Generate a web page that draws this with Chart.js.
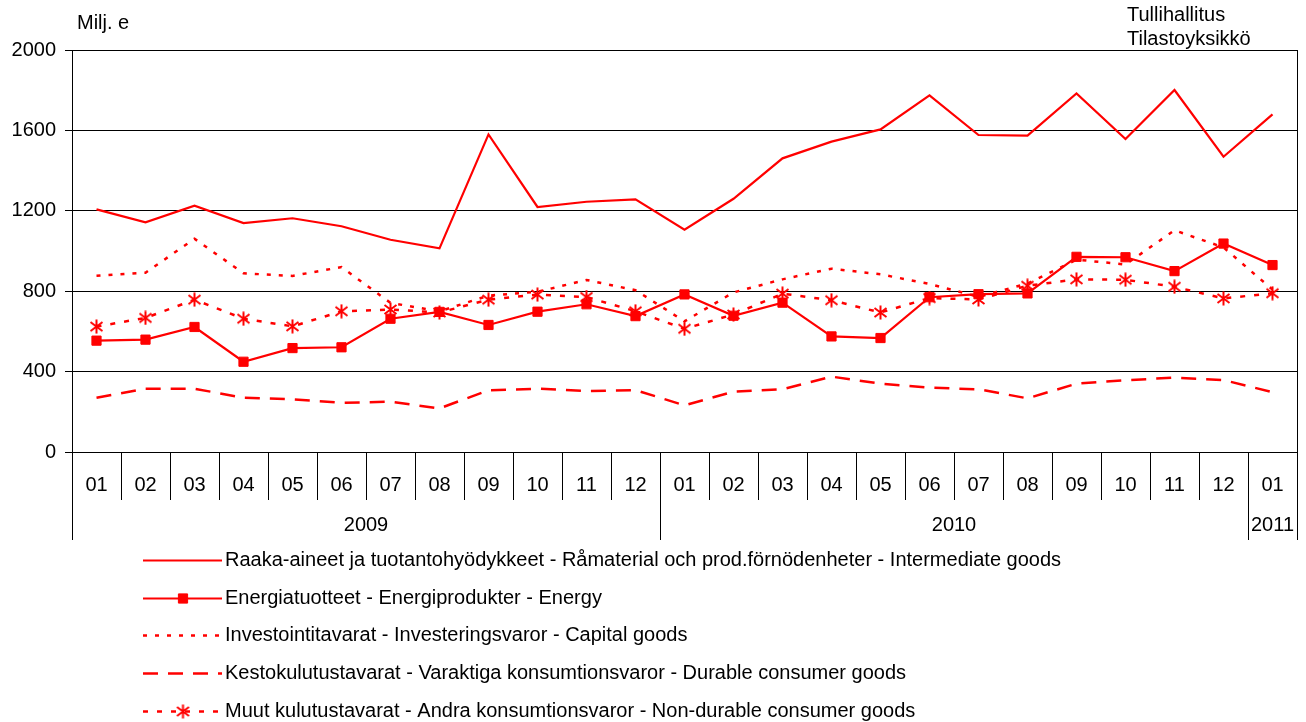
<!DOCTYPE html>
<html>
<head>
<meta charset="utf-8">
<script src="https://cdn.jsdelivr.net/npm/chart.js@4.4.1/dist/chart.umd.min.js"></script>
<style>
  html, body { margin: 0; padding: 0; background: #fff; }
</style>
</head>
<body>
<canvas id="chart-imports" width="1306" height="722"></canvas>
<script>
// data
var months = ["01","02","03","04","05","06","07","08","09","10","11","12",
              "01","02","03","04","05","06","07","08","09","10","11","12","01"];
var years = ["2009", "2010", "2011"];
var yearSpans = [12, 12, 1];
var yTicks = [0, 400, 800, 1200, 1600, 2000];

var intermediate = [1207,1143,1225,1139,1163,1123,1056,1013,1580,1219,1245,1257,
                    1106,1260,1461,1544,1605,1774,1577,1574,1784,1557,1801,1469,1680];
var energy = [554,559,622,449,517,521,663,697,632,698,735,676,
              784,678,743,575,567,770,785,789,971,969,900,1037,930];
var capital = [877,892,1061,889,876,920,742,700,778,797,856,805,
               650,794,859,912,884,836,772,838,957,933,1103,1018,808];
var durable = [270,315,315,270,262,245,250,217,307,315,303,308,
               232,300,312,375,340,320,312,267,340,357,370,358,298];
var nondurable = [624,667,758,663,625,700,709,694,758,783,771,700,
                  613,684,788,755,694,766,759,827,859,857,822,764,790];

var labels = [
  "Raaka-aineet ja tuotantohyödykkeet - Råmaterial och prod.förnödenheter - Intermediate goods",
  "Energiatuotteet - Energiprodukter - Energy",
  "Investointitavarat - Investeringsvaror - Capital goods",
  "Kestokulutustavarat - Varaktiga konsumtionsvaror - Durable consumer goods",
  "Muut kulutustavarat - Andra konsumtionsvaror - Non-durable consumer goods"
];

var RED = '#ff0000';
var FONT = 'Arial, "Liberation Sans", sans-serif';
var FS = 20;

// asterisk marker like the excel one
var star = document.createElement('canvas');
star.width = 15; star.height = 15;
(function () {
  var c = star.getContext('2d');
  c.strokeStyle = RED;
  c.lineWidth = 2;
  c.beginPath();
  c.moveTo(7.5, 0.5); c.lineTo(7.5, 14.5);
  c.moveTo(1.5, 3); c.lineTo(13.5, 12);
  c.moveTo(1.5, 12); c.lineTo(13.5, 3);
  c.stroke();
})();

// frame, year row and legend
var decor = {
  id: 'decor',
  afterDraw: function (chart) {
    var ctx = chart.ctx;
    var a = chart.chartArea;
    var x = chart.scales.x;
    var half = (x.getPixelForValue(1) - x.getPixelForValue(0)) / 2;
    ctx.save();
    ctx.strokeStyle = '#000';
    ctx.lineWidth = 1;
    ctx.beginPath();
    ctx.moveTo(Math.round(a.right) + 0.5, a.top);
    ctx.lineTo(Math.round(a.right) + 0.5, a.bottom + 88);
    ctx.stroke();

    // year groups
    ctx.fillStyle = '#000';
    ctx.font = FS + 'px ' + FONT;
    ctx.textAlign = 'center';
    ctx.textBaseline = 'middle';
    var start = 0;
    for (var i = 0; i < years.length; i++) {
      var x0 = x.getPixelForValue(start) - half;
      var x1 = x.getPixelForValue(start + yearSpans[i] - 1) + half;
      ctx.beginPath();
      ctx.moveTo(Math.round(x0) + 0.5, a.bottom);
      ctx.lineTo(Math.round(x0) + 0.5, a.bottom + 88);
      ctx.stroke();
      ctx.fillText(years[i], (x0 + x1) / 2, a.bottom + 73);
      start += yearSpans[i];
    }

    // legend
    var ds = chart.data.datasets;
    ctx.textAlign = 'left';
    for (var j = 0; j < ds.length; j++) {
      var y = Math.round(560 + j * 37.7) + 0.5;
      ctx.save();
      ctx.strokeStyle = ds[j].borderColor;
      ctx.lineWidth = ds[j].borderWidth;
      ctx.setLineDash(ds[j].borderDash || []);
      ctx.beginPath();
      ctx.moveTo(143, y);
      ctx.lineTo(222, y);
      ctx.stroke();
      ctx.restore();
      if (ds[j].pointRadius > 0) {
        ctx.save();
        ctx.fillStyle = RED;
        ctx.strokeStyle = RED;
        Chart.helpers.drawPoint(ctx, {
          pointStyle: ds[j].pointStyle, radius: ds[j].pointRadius,
          borderWidth: 1, rotation: 0
        }, 183, y);
        ctx.restore();
      }
      ctx.fillStyle = '#000';
      ctx.fillText(ds[j].label, 225, y);
    }

    // headers
    ctx.fillText('Milj. e', 77, 23);
    ctx.fillText('Tullihallitus', 1127, 15);
    ctx.fillText('Tilastoyksikkö', 1127, 39);
    ctx.restore();
  }
};

var ctx = document.getElementById('chart-imports').getContext('2d');
var chart = new Chart(ctx, {
  type: 'line',
  data: {
    labels: months,
    datasets: [{
      label: labels[0],
      data: intermediate,
      borderColor: RED,
      borderWidth: 2.2,
      pointRadius: 0
    }, {
      label: labels[1],
      data: energy,
      borderColor: RED,
      backgroundColor: RED,
      borderWidth: 2.2,
      pointStyle: 'rect',
      pointRadius: 6.5,
      pointBorderWidth: 1
    }, {
      label: labels[2],
      data: capital,
      borderColor: RED,
      borderWidth: 2.5,
      borderDash: [4, 8],
      pointRadius: 0
    }, {
      label: labels[3],
      data: durable,
      borderColor: RED,
      borderWidth: 2.5,
      borderDash: [15, 10],
      pointRadius: 0
    }, {
      label: labels[4],
      data: nondurable,
      borderColor: RED,
      borderWidth: 2.5,
      borderDash: [5, 9],
      pointStyle: star,
      pointRadius: 6
    }]
  },
  options: {
    responsive: false,
    animation: false,
    events: [],
    layout: { padding: { left: 0, right: 9, top: 50, bottom: 0 } },
    elements: { line: { tension: 0 } },
    plugins: {
      legend: { display: false },
      tooltip: { enabled: false }
    },
    scales: {
      x: {
        offset: true,
        grid: { offset: true, drawOnChartArea: false, tickLength: 48, color: '#000', lineWidth: 1 },
        border: { color: '#000' },
        ticks: { color: '#000', font: { family: FONT, size: FS }, padding: -27, maxRotation: 0, autoSkip: false },
        afterFit: function (s) { s.height = 270; }
      },
      y: {
        min: 0,
        max: 2000,
        afterBuildTicks: function (s) { s.ticks = yTicks.map(function (v) { return { value: v }; }); },
        grid: { color: '#000', lineWidth: 1, tickLength: 7 },
        border: { color: '#000' },
        ticks: {
          color: '#000', font: { family: FONT, size: FS }, padding: 9,
          callback: function (v) { return String(v); }
        },
        afterFit: function (s) { s.width = 72; }
      }
    }
  },
  plugins: [decor]
});
</script>
</body>
</html>
